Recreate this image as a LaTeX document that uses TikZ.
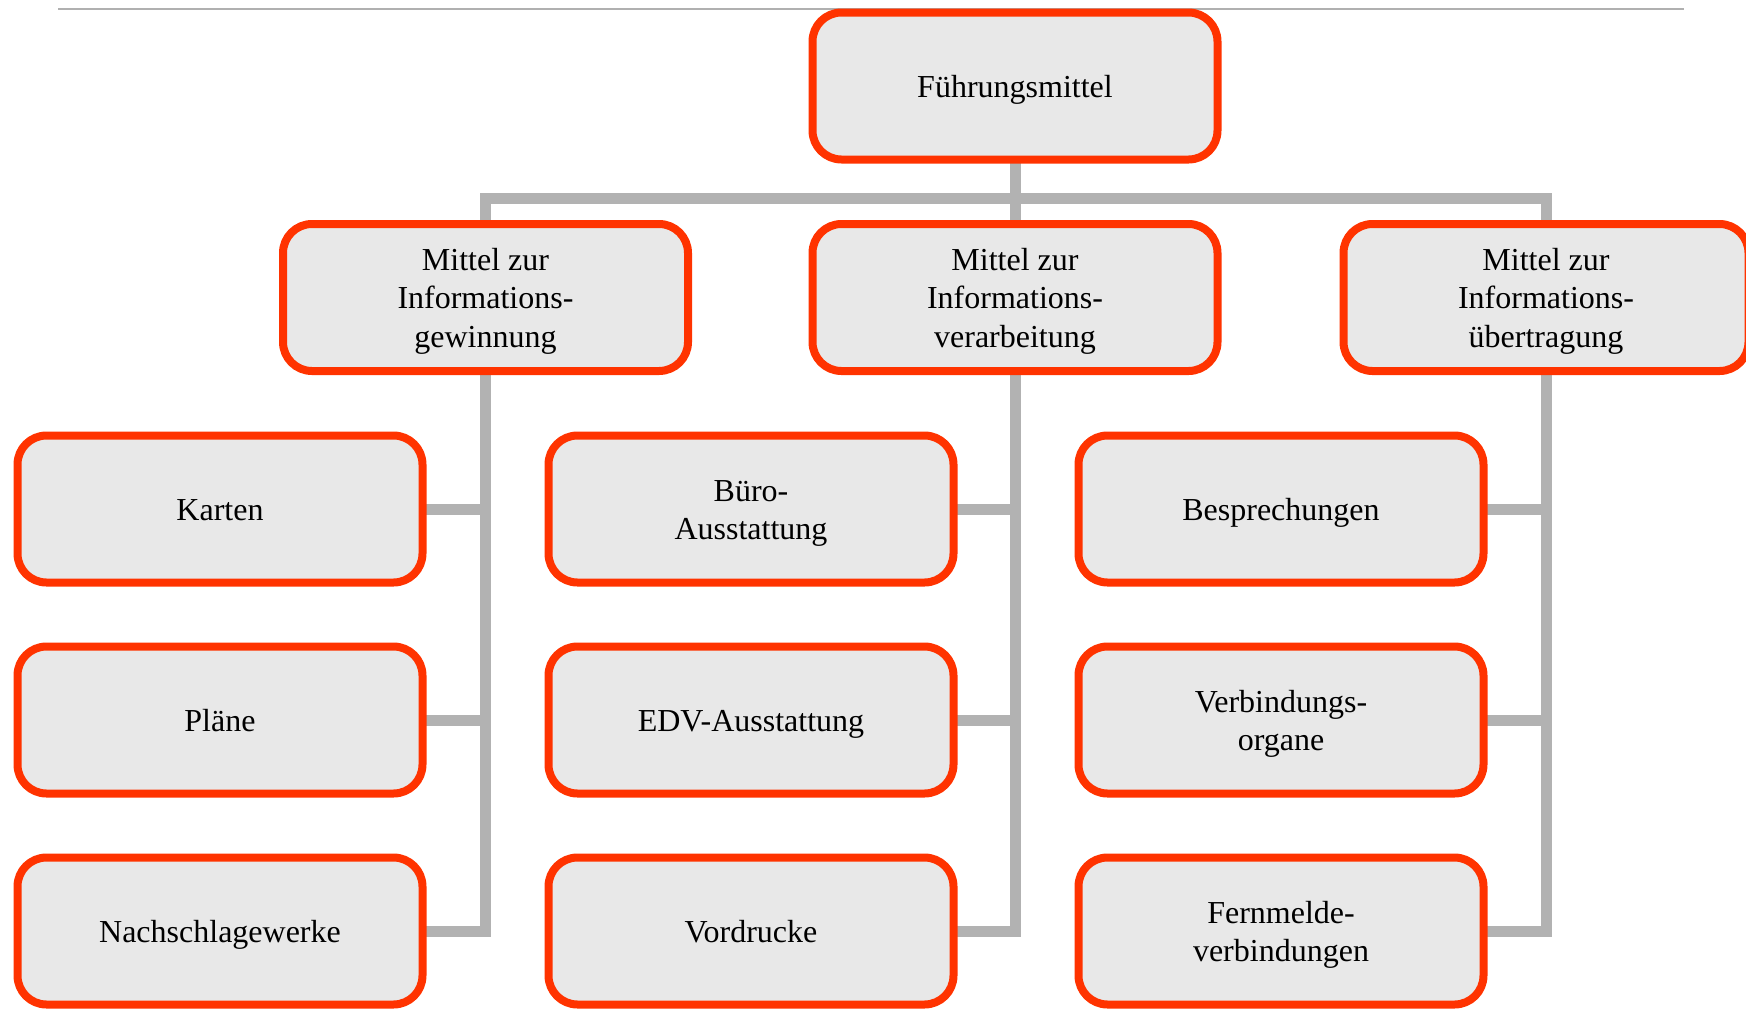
\documentclass[tikz,border=0pt]{standalone}
\usepackage{fontspec}
\setmainfont{Liberation Serif}
\usetikzlibrary{backgrounds}
\definecolor{boxred}{HTML}{FF3300}
\definecolor{boxfill}{HTML}{E8E8E8}
\definecolor{linkgray}{HTML}{B2B2B2}
\definecolor{rulegray}{HTML}{B0B0B0}
% struts giving every text line the same ascent and descent
\newcommand{\boxup}{\rule{0pt}{14.8pt}}
\newcommand{\boxdown}{\rule[-3.3pt]{0pt}{3.3pt}}
\begin{document}
\begin{tikzpicture}[x=0.5pt,y=-0.5pt,
  unit/.style={draw=boxred, fill=boxfill, line width=4pt, rounded corners=14.5pt,
    minimum width=202.5pt, minimum height=73.5pt, inner sep=0pt, outer sep=0pt,
    align=center, font=\fontsize{16}{19.2}\selectfont},
  link/.style={draw=linkgray, line width=5.5pt, line join=miter},
  toprule/.style={draw=rulegray, line width=1pt}]
\clip (0,0) rectangle (1746,1008);

% head
\node[unit] (top) at (1015,86) {\boxup Führungsmittel\boxdown};

% second level
\node[unit] (ga) at (485.5,297.5) {\boxup Mittel zur\\Informations-\\gewinnung\boxdown};
\node[unit] (gb) at (1015,297.5) {\boxup Mittel zur\\Informations-\\verarbeitung\boxdown};
\node[unit] (gc) at (1546,297.5) {\boxup Mittel zur\\Informations-\\übertragung\boxdown};

% third level
\node[unit] (a1) at (220,509) {\boxup Karten\boxdown};
\node[unit] (a2) at (220,720) {\boxup Pläne\boxdown};
\node[unit] (a3) at (220,931) {\boxup Nachschlagewerke\boxdown};
\node[unit] (b1) at (751,509) {\boxup Büro-\\Ausstattung\boxdown};
\node[unit] (b2) at (751,720) {\boxup EDV-Ausstattung\boxdown};
\node[unit] (b3) at (751,931) {\boxup Vordrucke\boxdown};
\node[unit] (c1) at (1281,509) {\boxup Besprechungen\boxdown};
\node[unit] (c2) at (1281,720) {\boxup Verbindungs-\\organe\boxdown};
\node[unit] (c3) at (1281,931) {\boxup Fernmelde-\\verbindungen\boxdown};

\coordinate (bar) at (1015,198);
\coordinate (ruleL) at (58,9);
\coordinate (ruleR) at (1684,9);

\begin{scope}[on background layer]
  \draw[toprule] (ruleL) -- (ruleR);
  \draw[link] (top.south) -- (gb.north);
  \draw[link] (ga.north) |- (bar) -| (gc.north);
  \draw[link] (ga.south) |- (a3.east);
  \draw[link] (a1.east) -- (a1.east -| ga.south);
  \draw[link] (a2.east) -- (a2.east -| ga.south);
  \draw[link] (gb.south) |- (b3.east);
  \draw[link] (b1.east) -- (b1.east -| gb.south);
  \draw[link] (b2.east) -- (b2.east -| gb.south);
  \draw[link] (gc.south) |- (c3.east);
  \draw[link] (c1.east) -- (c1.east -| gc.south);
  \draw[link] (c2.east) -- (c2.east -| gc.south);
\end{scope}
\end{tikzpicture}
\end{document}
